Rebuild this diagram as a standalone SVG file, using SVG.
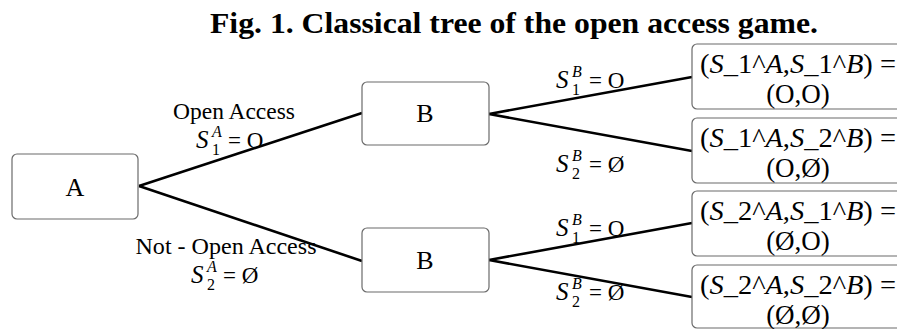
<svg xmlns="http://www.w3.org/2000/svg" width="897" height="329" viewBox="0 0 897 329">
<style>
.box{fill:#fff;stroke:#6b6b6b;stroke-width:1.2}
.edge{stroke:#000;stroke-width:2.6;fill:none}
.t{font-family:"Liberation Serif","Times New Roman",serif;fill:#000}
.n{font-size:26px}
.lab{font-size:23px}
.m{font-family:"Liberation Serif","Times New Roman",serif;font-style:italic;font-size:25px;fill:#000}
.s{font-family:"Liberation Serif","Times New Roman",serif;font-size:16px;fill:#000}
.si{font-family:"Liberation Serif","Times New Roman",serif;font-style:italic;font-size:16px;fill:#000}
.bx{font-family:"Liberation Serif","Times New Roman",serif;font-size:27px;fill:#000}
.i{font-style:italic}
</style>
<rect width="897" height="329" fill="#fff"/>
<text class="t" x="514" y="33" font-size="29" font-weight="bold" text-anchor="middle" textLength="608" lengthAdjust="spacingAndGlyphs">Fig. 1. Classical tree of the open access game.</text>

<g id="connectors">
<line class="edge" x1="139" y1="186" x2="362" y2="113"/>
<line class="edge" x1="139" y1="186" x2="362" y2="261"/>
<line class="edge" x1="489" y1="114" x2="692" y2="77"/>
<line class="edge" x1="489" y1="114" x2="692" y2="151"/>
<line class="edge" x1="489" y1="260" x2="692" y2="223"/>
<line class="edge" x1="489" y1="260" x2="692" y2="297"/>
</g>

<g id="edge-labels">
<text class="t lab" x="234" y="119" text-anchor="middle" textLength="122" lengthAdjust="spacingAndGlyphs">Open Access</text>
<text class="m" x="196" y="148">S</text><text class="si" x="212" y="137">A</text><text class="s" x="212" y="155">1</text><text class="t lab" x="228" y="148">= O</text>

<text class="t lab" x="226" y="254" text-anchor="middle" textLength="181" lengthAdjust="spacingAndGlyphs">Not - Open Access</text>
<text class="m" x="191" y="283">S</text><text class="si" x="207" y="272">A</text><text class="s" x="207" y="290">2</text><text class="t lab" x="223" y="283">= Ø</text>

<text class="m" x="556" y="88">S</text><text class="si" x="572" y="77">B</text><text class="s" x="572" y="95">1</text><text class="t lab" x="589" y="88">= O</text>
<text class="m" x="556" y="172">S</text><text class="si" x="572" y="161">B</text><text class="s" x="572" y="179">2</text><text class="t lab" x="589" y="172">= Ø</text>

<text class="m" x="556" y="236">S</text><text class="si" x="572" y="225">B</text><text class="s" x="572" y="243">1</text><text class="t lab" x="589" y="236">= O</text>
<text class="m" x="556" y="300">S</text><text class="si" x="572" y="289">B</text><text class="s" x="572" y="307">2</text><text class="t lab" x="589" y="300">= Ø</text>
</g>

<g id="node-A">
<rect class="box" x="12" y="154" width="126" height="65" rx="5"/>
<text class="t n" x="75" y="196" text-anchor="middle">A</text>
</g>
<g id="node-B1">
<rect class="box" x="362" y="82" width="127" height="63" rx="5"/>
<text class="t n" x="425" y="122" text-anchor="middle">B</text>
</g>
<g id="node-B2">
<rect class="box" x="362" y="228" width="127" height="64" rx="5"/>
<text class="t n" x="425" y="269" text-anchor="middle">B</text>
</g>

<g id="leaf-OO">
<rect class="box" x="692" y="44" width="220" height="65" rx="5"/>
<text class="bx" x="700" y="73" textLength="196" lengthAdjust="spacingAndGlyphs">(<tspan class="i">S</tspan>_1^<tspan class="i">A</tspan>,<tspan class="i">S</tspan>_1^<tspan class="i">B</tspan>) =</text>
<text class="bx" x="798" y="103" text-anchor="middle">(O,O)</text>
</g>
<g id="leaf-OX">
<rect class="box" x="692" y="118" width="220" height="65" rx="5"/>
<text class="bx" x="700" y="147" textLength="196" lengthAdjust="spacingAndGlyphs">(<tspan class="i">S</tspan>_1^<tspan class="i">A</tspan>,<tspan class="i">S</tspan>_2^<tspan class="i">B</tspan>) =</text>
<text class="bx" x="798" y="177" text-anchor="middle">(O,Ø)</text>
</g>
<g id="leaf-XO">
<rect class="box" x="692" y="191" width="220" height="65" rx="5"/>
<text class="bx" x="700" y="220" textLength="196" lengthAdjust="spacingAndGlyphs">(<tspan class="i">S</tspan>_2^<tspan class="i">A</tspan>,<tspan class="i">S</tspan>_1^<tspan class="i">B</tspan>) =</text>
<text class="bx" x="798" y="250" text-anchor="middle">(Ø,O)</text>
</g>
<g id="leaf-XX">
<rect class="box" x="692" y="265" width="220" height="63" rx="5"/>
<text class="bx" x="700" y="294" textLength="196" lengthAdjust="spacingAndGlyphs">(<tspan class="i">S</tspan>_2^<tspan class="i">A</tspan>,<tspan class="i">S</tspan>_2^<tspan class="i">B</tspan>) =</text>
<text class="bx" x="798" y="324" text-anchor="middle">(Ø,Ø)</text>
</g>
</svg>
